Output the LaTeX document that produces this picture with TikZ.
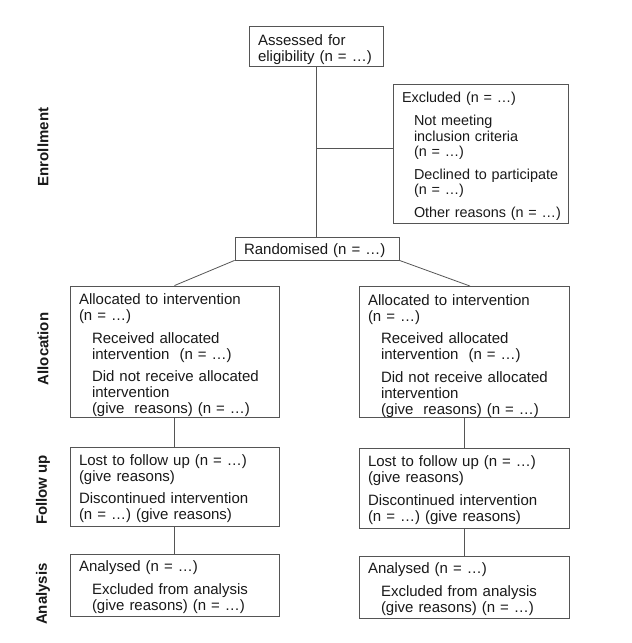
\documentclass[tikz,border=0pt]{standalone}
\usepackage{fontspec}
\setmainfont{Liberation Sans}
\definecolor{linec}{RGB}{85,85,85}
\definecolor{txtc}{RGB}{25,25,25}
\newcommand\fsz{\fontsize{15}{16}\selectfont}
\newcommand\fsy{\fontsize{14.4}{15.5}\selectfont}
\newcommand\nb[1]{\mbox{#1}}
\newcommand\tg[1]{\rule{0pt}{#1}}
\newcommand\ind{\hspace*{13pt}}
\begin{document}
\begin{tikzpicture}[x=1pt,y=-1pt,
  box/.style={draw=linec, line width=0.8pt, rectangle, inner xsep=9pt, inner ysep=0pt,
    align=left, font=\fsz, text=txtc},
  conn/.style={draw=linec, line width=0.8pt},
  phase/.style={rotate=90, font=\fsz\bfseries, text=txtc, inner sep=0pt}]
\useasboundingbox (0,0) rectangle (632,643);

% enrollment
\node[box, minimum width=134pt, minimum height=40pt, text width=116pt] (assess) at (316,46)
  {\nb{\tg{19pt}Assessed for}\\\nb{eligibility (n = …)}};
\node[box, font=\fsy, minimum width=175pt, minimum height=139pt, text width=157pt] (excl) at (480.5,153.5)
  {\nb{\tg{16.5pt}Excluded (n = …)}\\[7.5pt]
   \nb{\hspace*{12pt}Not meeting}\\
   \nb{\hspace*{12pt}inclusion criteria}\\
   \nb{\hspace*{12pt}(n = …)}\\[7pt]
   \nb{\hspace*{12pt}Declined to participate}\\
   \nb{\hspace*{12pt}(n = …)}\\[7.5pt]
   \nb{\hspace*{12pt}Other reasons (n = …)}};
\node[box, minimum width=164pt, minimum height=23pt, text width=146pt] (rand) at (317,248.5)
  {\nb{\tg{14.5pt}Randomised (n = …)}};

% allocation
\node[box, minimum width=209pt, minimum height=129pt, text width=191pt] (allocL) at (174.5,351.5)
  {\nb{\tg{19pt}Allocated to intervention}\\
   \nb{(n = …)}\\[6.5pt]
   \nb{\ind Received allocated}\\
   \nb{\ind intervention\ \ (n = …)}\\[6.5pt]
   \nb{\ind Did not receive allocated}\\
   \nb{\ind intervention}\\
   \nb{\ind (give\ \ reasons) (n = …)}};
\node[box, minimum width=210pt, minimum height=130pt, text width=192pt] (allocR) at (464,352)
  {\nb{\tg{19pt}Allocated to intervention}\\
   \nb{(n = …)}\\[6.5pt]
   \nb{\ind Received allocated}\\
   \nb{\ind intervention\ \ (n = …)}\\[6.5pt]
   \nb{\ind Did not receive allocated}\\
   \nb{\ind intervention}\\
   \nb{\ind (give\ \ reasons) (n = …)}};

% follow up
\node[box, minimum width=209pt, minimum height=79pt, text width=191pt] (followL) at (174.5,486.5)
  {\nb{\tg{15pt}Lost to follow up (n = …)}\\
   \nb{(give reasons)}\\[6.5pt]
   \nb{Discontinued intervention}\\
   \nb{(n = …) (give reasons)}};
\node[box, minimum width=210pt, minimum height=80pt, text width=192pt] (followR) at (464,488)
  {\nb{\tg{15pt}Lost to follow up (n = …)}\\
   \nb{(give reasons)}\\[6.5pt]
   \nb{Discontinued intervention}\\
   \nb{(n = …) (give reasons)}};

% analysis
\node[box, minimum width=209pt, minimum height=62pt, text width=191pt] (anaL) at (174.5,585)
  {\nb{\tg{15pt}Analysed (n = …)}\\[6.5pt]
   \nb{\ind Excluded from analysis}\\
   \nb{\ind (give reasons) (n = …)}};
\node[box, minimum width=210pt, minimum height=62pt, text width=192pt] (anaR) at (464,587)
  {\nb{\tg{15pt}Analysed (n = …)}\\[6.5pt]
   \nb{\ind Excluded from analysis}\\
   \nb{\ind (give reasons) (n = …)}};

% phase labels
\node[phase] (enr) at (43,147) {Enrollment};
\node[phase] (alc) at (43,349) {Allocation};
\node[phase] (fol) at (43,490) {Follow up};
\node[phase] (ana) at (43,594) {Analysis};

% connectors
\draw[conn] (assess.south) -- (assess.south |- rand.north);
\coordinate (br) at (assess.south |- 0,148);
\draw[conn] (br) -- (br -| excl.west);
\draw[conn] (rand.south west) -- (allocL.north);
\draw[conn] (rand.south east) -- ([xshift=6pt]allocR.north);
\draw[conn] (allocL.south) -- (followL.north);
\draw[conn] (followL.south) -- (anaL.north);
\draw[conn] (allocR.south) -- (followR.north);
\draw[conn] (followR.south) -- (anaR.north);
\end{tikzpicture}
\end{document}
